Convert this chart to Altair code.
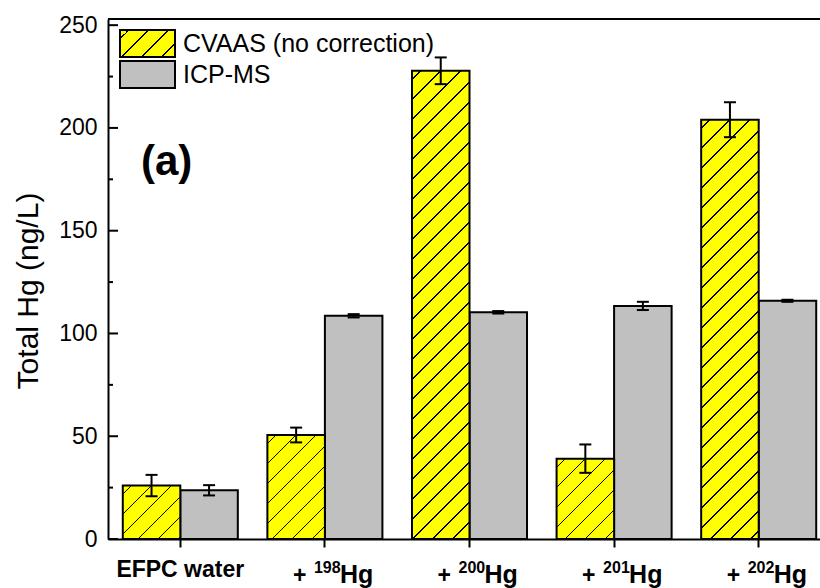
import altair as alt
import pandas as pd

# ---------------- data ----------------
categories = ["EFPC water", "+ 198Hg", "+ 200Hg", "+ 201Hg", "+ 202Hg"]
label_main = ["EFPC water", "Hg", "Hg", "Hg", "Hg"]
mass_numbers = ["", "198", "200", "201", "202"]
series = ["CVAAS (no correction)", "ICP-MS"]
cvaas = [26.0, 50.6, 227.8, 39.1, 204.0]
cvaas_err = [5.2, 3.6, 6.5, 6.9, 8.5]
icp = [23.7, 108.6, 110.3, 113.4, 115.9]
icp_err = [2.5, 0.8, 0.6, 2.0, 0.5]
y_major = [0, 50, 100, 150, 200, 250]
y_minor = [25, 75, 125, 175, 225]
panel_label = "(a)"
y_title = "Total Hg (ng/L)"

# ---------------- layout / style ----------------
FONT = "Liberation Sans"
YELLOW = "#FFFF00"
GRAY = "#C0C0C0"
BLACK = "#000000"
W, H = 712, 520
Y_MAX = 253
X_RANGE = 723
OFF_PAD = 0.257
PX_PER_UNIT = H / Y_MAX
BAR_W = (X_RANGE / len(categories)) / (2 + 2 * OFF_PAD)


def hatch(w, h, spacing=20.0, lw=1.6, phase=8.0):
    L = w + h
    d = w * w + h * h
    stops = [alt.GradientStop(color=YELLOW, offset=0)]
    c = phase
    while c + lw < L:
        a, b = c / L, (c + lw) / L
        stops += [
            alt.GradientStop(color=YELLOW, offset=a),
            alt.GradientStop(color=BLACK, offset=a),
            alt.GradientStop(color=BLACK, offset=b),
            alt.GradientStop(color=YELLOW, offset=b),
        ]
        c += spacing
    stops.append(alt.GradientStop(color=YELLOW, offset=1))
    return alt.LinearGradient(gradient="linear", stops=stops,
                              x1=0, y1=0, x2=w * L / d, y2=h * L / d)


rows = []
for i, c in enumerate(categories):
    rows.append(dict(category=c, series=series[0], value=cvaas[i],
                     lo=cvaas[i] - cvaas_err[i], hi=cvaas[i] + cvaas_err[i]))
    rows.append(dict(category=c, series=series[1], value=icp[i],
                     lo=icp[i] - icp_err[i], hi=icp[i] + icp_err[i]))
df = pd.DataFrame(rows)

xscale = alt.Scale(domain=categories, range=[0, X_RANGE], paddingInner=0, paddingOuter=0)
offscale = alt.Scale(domain=series, paddingInner=0, paddingOuter=OFF_PAD)
yscale = alt.Scale(domain=[0, Y_MAX], nice=False, zero=True)

xaxis = alt.Axis(title=None, labels=False, ticks=True, tickSize=8, tickWidth=2,
                 tickColor=BLACK, domainColor=BLACK, domainWidth=2, grid=False)
yaxis = alt.Axis(title=y_title, values=y_major, ticks=False, grid=False,
                 domainColor=BLACK, domainWidth=2,
                 labelFont=FONT, labelFontSize=23, labelColor=BLACK, labelPadding=11,
                 titleFont=FONT, titleFontSize=30, titleFontWeight="normal",
                 titleColor=BLACK, titleX=-71, titleY=271.5, titleAngle=-90,
                 titleAlign="center", titleBaseline="alphabetic")

X = alt.X("category:N", scale=xscale, axis=xaxis, sort=categories)
XO = alt.XOffset("series:N", scale=offscale, sort=series)


def Y(field):
    return alt.Y(f"{field}:Q", scale=yscale, axis=yaxis)


layers = []

# gray bars
layers.append(
    alt.Chart(df[df.series == series[1]]).mark_bar(
        fill=GRAY, stroke=BLACK, strokeWidth=2
    ).encode(x=X, xOffset=XO, y=Y("value"))
)

# hatched yellow bars (one layer per bar so each gets its own hatch gradient)
for i, c in enumerate(categories):
    sub = df[(df.series == series[0]) & (df.category == c)]
    layers.append(
        alt.Chart(sub).mark_bar(
            fill=hatch(BAR_W, cvaas[i] * PX_PER_UNIT), stroke=BLACK, strokeWidth=2
        ).encode(x=X, xOffset=XO, y=Y("value"))
    )

# error bars
layers.append(
    alt.Chart(df).mark_rule(color=BLACK, strokeWidth=2).encode(
        x=X, xOffset=XO, y=Y("lo"), y2="hi:Q")
)
for f in ["lo", "hi"]:
    layers.append(
        alt.Chart(df).mark_tick(orient="horizontal", size=12, thickness=2,
                                color=BLACK, opacity=1).encode(x=X, xOffset=XO, y=Y(f))
    )

# inward y ticks (short rules hugging the axis line)
layers.append(
    alt.Chart(pd.DataFrame({"v": y_major})).mark_rule(color=BLACK, strokeWidth=2).encode(
        y=Y("v"), x=alt.value(0), x2=alt.value(10))
)
layers.append(
    alt.Chart(pd.DataFrame({"v": y_minor})).mark_rule(color=BLACK, strokeWidth=2).encode(
        y=Y("v"), x=alt.value(0), x2=alt.value(5))
)

# top frame line
one = pd.DataFrame({"k": [0]})
layers.append(
    alt.Chart(one).mark_rule(color=BLACK, strokeWidth=2).encode(
        x=alt.value(0), x2=alt.value(W), y=alt.value(0))
)

# x category labels
lab_df = pd.DataFrame({"category": categories, "main": label_main, "mass": mass_numbers})
plain = lab_df[lab_df.mass == ""]
iso = lab_df[lab_df.mass != ""]
layers.append(
    alt.Chart(plain).mark_text(font=FONT, fontSize=23, fontWeight="bold", color=BLACK,
                               align="center", baseline="alphabetic").encode(
        x=X, y=alt.value(558), text="main:N")
)
layers.append(
    alt.Chart(iso).mark_text(text="+", font=FONT, fontSize=23, fontWeight="bold",
                             color=BLACK, align="left", baseline="alphabetic",
                             dx=-32).encode(x=X, y=alt.value(564))
)
layers.append(
    alt.Chart(iso).mark_text(font=FONT, fontSize=16, fontWeight="bold", color=BLACK,
                             align="left", baseline="alphabetic", dx=-11).encode(
        x=X, y=alt.value(554), text="mass:N")
)
layers.append(
    alt.Chart(iso).mark_text(font=FONT, fontSize=25, fontWeight="bold", color=BLACK,
                             align="left", baseline="alphabetic", dx=15).encode(
        x=X, y=alt.value(564), text="main:N")
)

# panel label
layers.append(
    alt.Chart(one).mark_text(text=panel_label, font=FONT, fontSize=42, fontWeight="bold",
                             color=BLACK, align="left", baseline="alphabetic").encode(
        x=alt.value(33), y=alt.value(156))
)

# legend (drawn manually)
layers.append(
    alt.Chart(one).mark_rect(fill=hatch(55, 27), stroke=BLACK, strokeWidth=2).encode(
        x=alt.value(12), x2=alt.value(67), y=alt.value(11), y2=alt.value(38))
)
layers.append(
    alt.Chart(one).mark_rect(fill=GRAY, stroke=BLACK, strokeWidth=2).encode(
        x=alt.value(12), x2=alt.value(67), y=alt.value(42), y2=alt.value(69))
)
for j, s in enumerate(series):
    layers.append(
        alt.Chart(one).mark_text(text=s, font=FONT, fontSize=25, color=BLACK,
                                 align="left", baseline="middle").encode(
            x=alt.value(75), y=alt.value(25 + 31 * j))
    )

chart = alt.layer(*layers).properties(
    width=W, height=H,
    autosize=alt.AutoSizeParams(type="none"),
    padding={"left": 108, "top": 19, "right": 0, "bottom": 49},
    background="white",
).configure_view(stroke=None)

chart.save("out.html", embed_options={"renderer": "svg", "actions": False})
